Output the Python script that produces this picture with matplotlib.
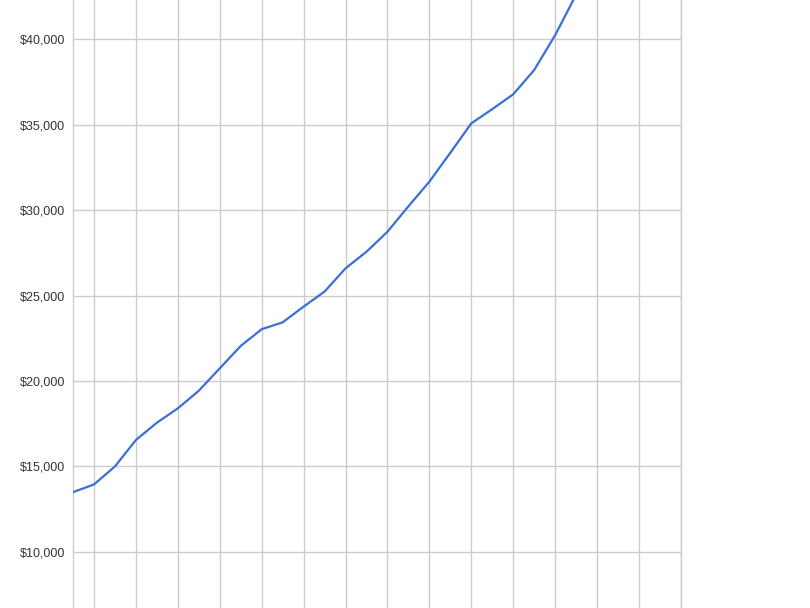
import numpy as np
import matplotlib.pyplot as plt
from matplotlib.ticker import FuncFormatter

# values, one point per period
values = [13500, 13950, 15000, 16550, 17560, 18400, 19430, 20740, 22050,
          23030, 23430, 24350, 25230, 26590, 27560, 28730, 30220, 31660,
          33350, 35070, 35900, 36770, 38190, 40230, 42600]
yticks = [10000, 15000, 20000, 25000, 30000, 35000, 40000]
n_periods = 30

x = np.arange(len(values))

fig = plt.figure(figsize=(8.1, 6.08), dpi=100)
ax = fig.add_axes([73 / 810, 0, 608 / 810, 1])

ax.plot(x, values, color='#3a6fd6', lw=1.6, solid_joinstyle='round', zorder=3)

ax.set_xlim(0, n_periods - 1)
ax.set_ylim(6725, 42281)
ax.set_xticks(np.arange(1, n_periods, 2))
ax.set_yticks(yticks)
ax.yaxis.set_major_formatter(FuncFormatter(lambda v, p: '${:,.0f}'.format(v)))
ax.grid(True, color='#cccccc', lw=1)
ax.tick_params(length=0, labelbottom=False, pad=5.5, labelsize=9, labelcolor='#333333')
for lab in ax.get_yticklabels():
    lab.set_family('Liberation Sans')

for s in ['top', 'bottom']:
    ax.spines[s].set_visible(False)
for s in ['left', 'right']:
    ax.spines[s].set_color('#cccccc')
    ax.spines[s].set_linewidth(1)

fig.savefig('out.png', dpi=100)
